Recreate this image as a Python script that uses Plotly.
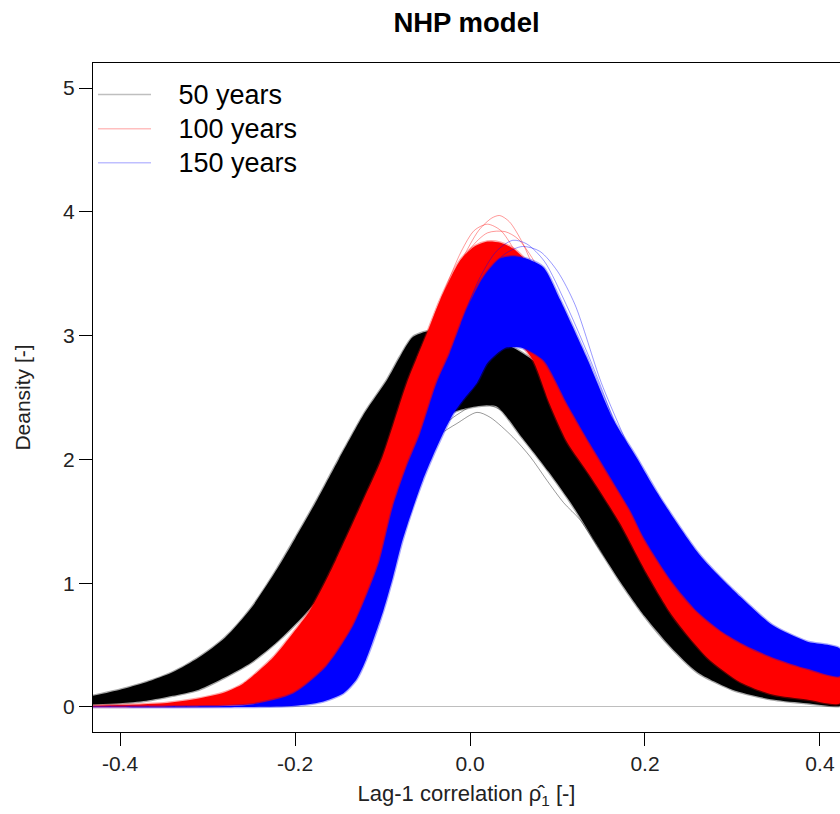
import plotly.graph_objects as go

# ---------------- data ----------------
SERIES_NAMES = ["50 years", "100 years", "150 years"]
SERIES_RGB = ["0,0,0", "255,0,0", "0,0,255"]

# 50 years: envelope of the bundle of density curves (max / min density)
BLACK_UPPER_X = [-0.431, -0.40, -0.37, -0.34, -0.31, -0.28, -0.25, -0.22, -0.20, -0.175,
                 -0.15, -0.12, -0.095, -0.08, -0.065, -0.04, -0.01, 0.02, 0.05, 0.08,
                 0.11, 0.137, 0.16, 0.185, 0.21, 0.235, 0.27, 0.31, 0.35, 0.385, 0.423]
BLACK_UPPER_Y = [0.09, 0.14, 0.20, 0.28, 0.40, 0.56, 0.80, 1.12, 1.36, 1.67,
                 2.00, 2.38, 2.64, 2.83, 2.99, 3.05, 3.05, 2.98, 2.90, 2.75,
                 2.35, 2.00, 1.70, 1.38, 1.05, 0.80, 0.52, 0.30, 0.16, 0.10, 0.05]
BLACK_LOWER_X = [-0.431, -0.40, -0.37, -0.34, -0.31, -0.28, -0.25, -0.22, -0.19, -0.16,
                 -0.14, -0.12, -0.10, -0.08, -0.05, -0.02, 0.0, 0.03, 0.057, 0.09,
                 0.118, 0.145, 0.17, 0.20, 0.23, 0.26, 0.30, 0.346, 0.385, 0.423]
BLACK_LOWER_Y = [0.02, 0.03, 0.05, 0.09, 0.14, 0.24, 0.36, 0.53, 0.74, 0.99,
                 1.21, 1.45, 1.75, 2.00, 2.25, 2.38, 2.42, 2.43, 2.20, 1.90,
                 1.62, 1.31, 1.03, 0.73, 0.48, 0.28, 0.14, 0.06, 0.03, 0.01]
BLACK_OUTLIERS = [
    ([-0.06, -0.035, -0.015, 0.008, 0.023, 0.049, 0.069, 0.088, 0.107, 0.126, 0.15, 0.18],
     [2.05, 2.20, 2.29, 2.38, 2.34, 2.18, 2.02, 1.83, 1.65, 1.51, 1.25, 0.95]),
    ([-0.04, -0.015, 0.01, 0.035, 0.06, 0.08, 0.10, 0.12, 0.145, 0.17],
     [2.22, 2.36, 2.45, 2.40, 2.22, 2.05, 1.88, 1.70, 1.42, 1.12]),
]

# 100 years
RED_UPPER_X = [-0.431, -0.35, -0.317, -0.28, -0.259, -0.225, -0.202, -0.183, -0.164, -0.153,
               -0.122, -0.10, -0.072, -0.049, -0.034, -0.011, 0.005, 0.02, 0.035, 0.05,
               0.065, 0.08, 0.11, 0.14, 0.17, 0.20, 0.23, 0.27, 0.31, 0.35, 0.385, 0.423]
RED_UPPER_Y = [0.01, 0.03, 0.06, 0.12, 0.19, 0.40, 0.60, 0.78, 1.03, 1.19,
               1.67, 2.02, 2.62, 3.02, 3.29, 3.61, 3.72, 3.76, 3.75, 3.70,
               3.60, 3.45, 2.90, 2.40, 1.95, 1.50, 1.15, 0.80, 0.62, 0.48, 0.38, 0.30]
RED_LOWER_X = [-0.431, -0.25, -0.20, -0.17, -0.14, -0.115, -0.095, -0.07, -0.045, -0.02,
               0.0, 0.02, 0.04, 0.055, 0.072, 0.091, 0.111, 0.137, 0.171, 0.202,
               0.232, 0.271, 0.309, 0.346, 0.385, 0.423]
RED_LOWER_Y = [0.0, 0.02, 0.08, 0.22, 0.48, 0.85, 1.22, 1.75, 2.25, 2.68,
               2.92, 3.02, 3.00, 2.95, 2.80, 2.45, 2.14, 1.87, 1.49, 1.08,
               0.73, 0.40, 0.20, 0.10, 0.06, 0.03]
RED_OUTLIERS = [
    ([-0.06, -0.03, -0.01, 0.01, 0.025, 0.034, 0.045, 0.06, 0.08],
     [2.80, 3.28, 3.60, 3.85, 3.95, 3.97, 3.92, 3.75, 3.42]),
    ([-0.06, -0.03, -0.01, 0.005, 0.02, 0.035, 0.05, 0.07],
     [2.82, 3.35, 3.68, 3.85, 3.90, 3.85, 3.70, 3.45]),
    ([-0.05, -0.025, 0.0, 0.02, 0.04, 0.055, 0.075, 0.095],
     [2.98, 3.38, 3.70, 3.83, 3.84, 3.78, 3.58, 3.25]),
]

# 150 years
BLUE_UPPER_X = [-0.431, -0.30, -0.25, -0.202, -0.164, -0.134, -0.111, -0.103, -0.088, -0.072,
                -0.057, -0.038, -0.023, -0.004, 0.015, 0.034, 0.05, 0.065, 0.084, 0.103,
                0.133, 0.164, 0.19, 0.214, 0.24, 0.259, 0.271, 0.309, 0.346, 0.385, 0.423]
BLUE_UPPER_Y = [0.0, 0.005, 0.02, 0.11, 0.33, 0.65, 1.03, 1.19, 1.62, 1.95,
                2.21, 2.62, 2.86, 3.21, 3.47, 3.62, 3.64, 3.62, 3.55, 3.29,
                2.83, 2.32, 2.02, 1.73, 1.45, 1.26, 1.16, 0.89, 0.66, 0.53, 0.47]
BLUE_LOWER_X = [-0.431, -0.25, -0.20, -0.17, -0.145, -0.13, -0.119, -0.099, -0.088, -0.077,
                -0.054, -0.034, -0.019, -0.008, 0.008, 0.02, 0.04, 0.06, 0.084, 0.111,
                0.137, 0.16, 0.183, 0.20, 0.23, 0.26, 0.29, 0.32, 0.35, 0.385, 0.423]
BLUE_LOWER_Y = [0.0, 0.0, 0.01, 0.04, 0.11, 0.22, 0.38, 0.78, 1.05, 1.35,
                1.83, 2.16, 2.37, 2.48, 2.62, 2.78, 2.90, 2.90, 2.80, 2.45,
                2.13, 1.86, 1.59, 1.35, 1.02, 0.77, 0.60, 0.48, 0.39, 0.31, 0.25]
BLUE_OUTLIERS = [
    ([-0.01, 0.01, 0.03, 0.049, 0.065, 0.085, 0.11, 0.14, 0.165],
     [3.10, 3.45, 3.68, 3.77, 3.74, 3.60, 3.25, 2.76, 2.30]),
    ([0.0, 0.02, 0.04, 0.06, 0.08, 0.10, 0.12, 0.15, 0.18],
     [3.20, 3.50, 3.66, 3.72, 3.68, 3.52, 3.25, 2.62, 2.12]),
]

X_TICKS = [-0.4, -0.2, 0.0, 0.2, 0.4]
X_TICK_TEXT = ["-0.4", "-0.2", "0.0", "0.2", "0.4"]
Y_TICKS = [0, 1, 2, 3, 4, 5]
X_RANGE = [-0.4309, 0.4229]
Y_RANGE = [-0.202, 5.202]

FONT = "Liberation Sans, Arial, Helvetica, sans-serif"
LEGEND_PAD = "\u00a0\u00a0\u00a0"

fig = go.Figure()


def add_band(ux, uy, lx, ly, rgb):
    xs = list(ux) + list(lx)[::-1]
    ys = list(uy) + list(ly)[::-1]
    fig.add_trace(go.Scatter(
        x=xs, y=ys, mode="lines", fill="toself",
        fillcolor=f"rgb({rgb})",
        line=dict(color=f"rgba({rgb},0.35)", width=2.6, shape="spline", smoothing=0.7),
        showlegend=False, hoverinfo="skip"))


def add_outliers(curves, rgb):
    for cx, cy in curves:
        fig.add_trace(go.Scatter(
            x=cx, y=cy, mode="lines",
            line=dict(color=f"rgba({rgb},0.4)", width=1, shape="spline", smoothing=0.8),
            showlegend=False, hoverinfo="skip"))


add_band(BLACK_UPPER_X, BLACK_UPPER_Y, BLACK_LOWER_X, BLACK_LOWER_Y, SERIES_RGB[0])
add_outliers(BLACK_OUTLIERS, SERIES_RGB[0])
add_band(RED_UPPER_X, RED_UPPER_Y, RED_LOWER_X, RED_LOWER_Y, SERIES_RGB[1])
add_outliers(RED_OUTLIERS, SERIES_RGB[1])
add_band(BLUE_UPPER_X, BLUE_UPPER_Y, BLUE_LOWER_X, BLUE_LOWER_Y, SERIES_RGB[2])
add_outliers(BLUE_OUTLIERS, SERIES_RGB[2])

# legend entries (semi-transparent lines, as in the original)
for name, rgb in zip(SERIES_NAMES, SERIES_RGB):
    fig.add_trace(go.Scatter(
        x=[None], y=[None], mode="lines",
        name=f'<span style="font-size:27px">{LEGEND_PAD}{name}</span>',
        line=dict(color=f"rgba({rgb},0.25)", width=1.5)))

axis_common = dict(
    showgrid=False, ticks="outside", ticklen=13, tickwidth=1.3, tickcolor="black",
    showline=True, linecolor="black", linewidth=1.3,
    tickfont=dict(family=FONT, size=21, color="#222"),
)

fig.update_layout(
    width=840, height=814,
    margin=dict(l=93, r=0, t=63, b=82),
    paper_bgcolor="white", plot_bgcolor="white",
    font=dict(family=FONT, color="black"),
    title=dict(text="<b>NHP model</b>", x=0.5, xref="paper", xanchor="center",
               y=1 - 22 / 814, yref="container", yanchor="middle",
               font=dict(family=FONT, size=27.5, color="black")),
    xaxis=dict(range=X_RANGE, tickvals=X_TICKS, ticktext=X_TICK_TEXT, mirror=True,
               zeroline=False,
               title=dict(text="Lag-1 correlation ρ\u0302<sub>1</sub> [-]", standoff=11,
                          font=dict(family=FONT, size=22, color="#222")),
               **axis_common),
    yaxis=dict(range=Y_RANGE, tickvals=Y_TICKS, mirror=False,
               zeroline=True, zerolinecolor="rgb(190,190,190)", zerolinewidth=1.3,
               title=dict(text="Deansity [-]", standoff=26,
                          font=dict(family=FONT, size=21, color="#222")),
               **axis_common),
    legend=dict(x=0.0, y=0.986, xanchor="left", yanchor="top",
                bgcolor="rgba(0,0,0,0)", itemwidth=53,
                font=dict(family=FONT, size=24, color="black")),
)

fig.write_html("out.html")
